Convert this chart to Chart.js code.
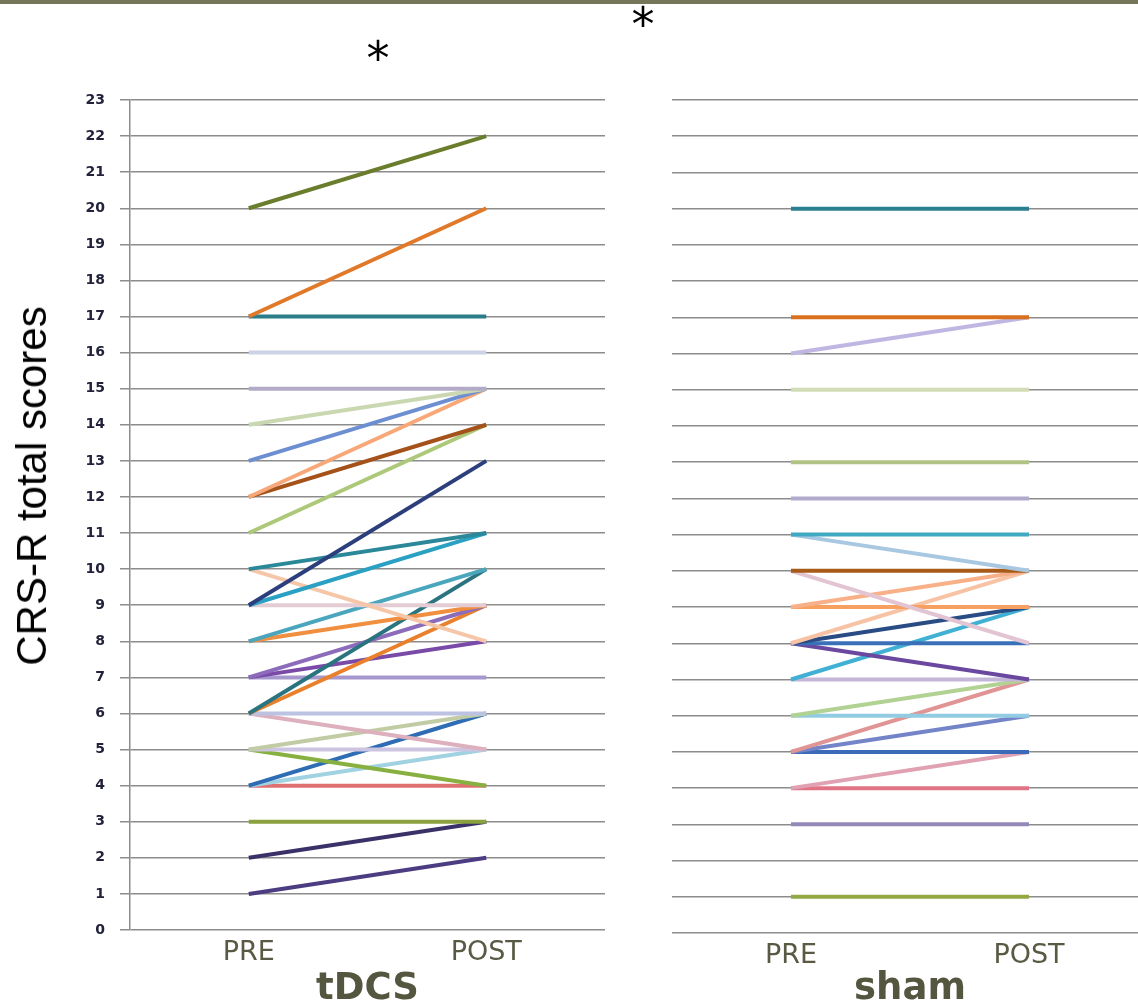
<!DOCTYPE html>
<html>
<head>
<meta charset="utf-8">
<script src="https://cdn.jsdelivr.net/npm/chart.js@4/dist/chart.umd.min.js"></script>
<style>
  html, body { margin:0; padding:0; background:#fff; width:1138px; height:1008px; overflow:hidden; }
  #wrap { position:relative; width:1138px; height:1008px; overflow:hidden; }
  #topbar { position:absolute; left:0; top:0; width:1138px; height:4px; background:#76765a; }
  canvas { position:absolute; top:0; }
  #cL { left:0; }
  #cR { left:620px; }
  .txt { position:absolute; white-space:nowrap; color:#000; }
  #ytitle { font-family:"Liberation Sans", Arial, sans-serif; font-size:42px; left:32px; top:486px;
            transform:translate(-50%,-50%) rotate(-90deg); }
  .star { font-family:"DejaVu Sans", sans-serif; font-size:46px; transform:translate(-50%,-50%); }
</style>
</head>
<body>
<div id="wrap">
  <div id="topbar"></div>
  <canvas id="cL" width="620" height="1008"></canvas>
  <canvas id="cR" width="528" height="1008"></canvas>
  <div class="txt" id="ytitle">CRS-R total scores</div>
  <div class="txt star" style="left:378px; top:58px;">*</div>
  <div class="txt star" style="left:643px; top:24px;">*</div>
</div>
<script>
// ---- data ----
const categories = ['PRE', 'POST'];
const yTicks = [0,1,2,3,4,5,6,7,8,9,10,11,12,13,14,15,16,17,18,19,20,21,22,23];

const tdcsPre  = [20,17,17,16,15,14,13,12,12,11, 9,10, 9,10, 9, 8, 8, 6, 7, 6, 7, 7, 6, 6, 5, 5, 5, 4, 4, 4, 3, 2, 1];
const tdcsPost = [22,20,17,16,15,15,15,15,14,14,13,11,11, 8, 9,10, 9,10, 9, 9, 8, 7, 6, 5, 6, 5, 4, 6, 5, 4, 3, 3, 2];
const tdcsColors = ['#6a7d2c','#e07a2a','#2b7d89','#cdd2e4','#b3aac8','#c9d8b0','#6d8fd2','#f8a878','#a4521a','#acc878',
                    '#2c3f7c','#2a8898','#2aa0c2','#f6c6a8','#e4ccd4','#4aa6bc','#f08f40','#2a7480','#8c6cba','#e8802c',
                    '#7a4aa8','#a698cc','#bcc2e2','#dcb0bc','#c2cca4','#ccc4e0','#88b040','#2e6cb4','#a0d2e2','#e07070',
                    '#8aa13e','#3b3168','#4c3c82'];

const shamPre  = [20,17,16,15,13,12,11,11,10,10, 9, 9, 8, 8, 8, 8, 7, 7, 6, 6, 5, 5, 5, 4, 4, 3, 1];
const shamPost = [20,17,17,15,13,12,11,10,10, 8,10, 9,10, 9, 8, 7, 9, 7, 7, 6, 7, 6, 5, 5, 4, 3, 1];
const shamColors = ['#2a8090','#d8701e','#c0b6e2','#d2dcb6','#b2c284','#b2aacc','#40a8c0','#a8c8e2','#a85a18','#e2c4d2',
                    '#f8b088','#f8a060','#f8c2a4','#2a4c84','#3a70b8','#6a48a0','#40b0d4','#c4b6d8','#b2d294','#92cce2',
                    '#e09494','#7484c8','#3a6ab8','#e0a2b2','#e07484','#9488b8','#92a842'];

// ---- build ----
function makeDatasets(pre, post, colors) {
  return pre.map((p, i) => ({
    data: [p, post[i]],
    borderColor: colors[i],
    backgroundColor: colors[i],
    borderWidth: 4,
    pointRadius: 0,
    tension: 0,
    fill: false
  }));
}

const gridColor = '#8c8c8c';
const labelColor = '#5a5a44';

function makeChart(canvasId, pre, post, colors, groupTitle, showYLabels, yWidth, xHeight) {
  return new Chart(document.getElementById(canvasId), {
    type: 'line',
    data: { labels: categories, datasets: makeDatasets(pre, post, colors) },
    options: {
      responsive: false,
      animation: false,
      events: [],
      layout: { padding: { top: 100, right: showYLabels ? 15 : 0, left: 0, bottom: 0 } },
      plugins: { legend: { display: false }, tooltip: { enabled: false }, title: { display: false } },
      scales: {
        x: {
          type: 'category',
          offset: true,
          grid: { display: false, drawTicks: false },
          border: { display: false },
          ticks: { color: labelColor, padding: 7, font: { family: 'DejaVu Sans', size: 27 } },
          title: { display: true, text: groupTitle, color: '#55563f', padding: { top: 0, bottom: 0 },
                   font: { family: 'DejaVu Sans', size: 37, weight: 'bold', lineHeight: 1.0 } },
          afterFit: s => { s.height = xHeight; }
        },
        y: {
          min: 0, max: 23,
          afterBuildTicks: s => { s.ticks = yTicks.map(v => ({ value: v })); },
          grid: { color: gridColor, lineWidth: 1.5, drawTicks: showYLabels, tickLength: 10 },
          border: { display: showYLabels, color: gridColor, width: 1.5 },
          ticks: { display: showYLabels, color: '#22233a', padding: 15,
                   font: { family: 'DejaVu Sans', size: 14, weight: 'bold' } },
          afterFit: s => { s.width = yWidth; }
        }
      }
    }
  });
}

makeChart('cL', tdcsPre, tdcsPost, tdcsColors, 'tDCS', true, 130, 78);
makeChart('cR', shamPre, shamPost, shamColors, 'sham', false, 52, 75);
</script>
</body>
</html>
